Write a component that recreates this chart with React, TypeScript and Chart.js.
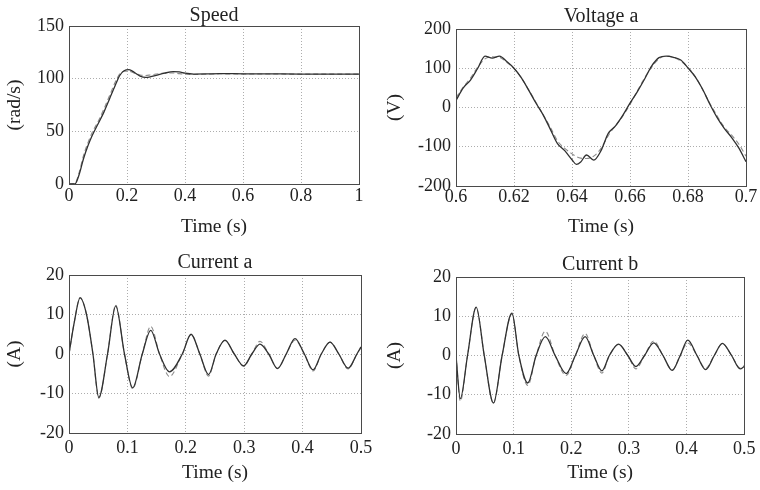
import React, { useEffect, useRef } from "react";
import { Chart, registerables } from "chart.js";

Chart.register(...registerables);

const FONT = "'Liberation Serif', 'DejaVu Serif', serif";
const TEXT = "#222222";

// ---------- Speed ----------
const speedTime = [0, 0.02, 0.035, 0.05, 0.065, 0.08, 0.1, 0.12, 0.14, 0.16, 0.175, 0.19, 0.207, 0.225, 0.245, 0.265, 0.28, 0.3, 0.33, 0.36, 0.38, 0.4, 0.43, 0.47, 0.52, 0.6, 0.7, 0.8, 0.9, 1.0];
const speedSolid = [0, 0, 9, 24, 36, 46, 57, 68, 81, 94, 103, 107.5, 108.5, 106, 102.5, 101.3, 101.8, 103.2, 105.3, 106.6, 106.4, 105.2, 104.4, 104.5, 104.8, 104.6, 104.5, 104.4, 104.4, 104.4];
const speedDashed = [0, 0.5, 11, 27, 39, 49, 59, 71, 84, 97, 104.5, 107, 107, 105.2, 103.5, 103, 103.5, 104.4, 105.4, 105.4, 104.8, 104.2, 104, 104.2, 104.6, 104.5, 104.4, 104.3, 104.3, 104.3];
const speedXTicks = [0, 0.2, 0.4, 0.6, 0.8, 1];
const speedYTicks = [0, 50, 100, 150];

// ---------- Voltage a ----------
const voltTime = [0.6, 0.6025, 0.605, 0.6075, 0.61, 0.6125, 0.615, 0.6175, 0.62, 0.6225, 0.625, 0.6275, 0.63, 0.6325, 0.635, 0.6375, 0.64, 0.6415, 0.643, 0.645, 0.6475, 0.65, 0.6525, 0.655, 0.6575, 0.66, 0.6625, 0.665, 0.6675, 0.67, 0.6725, 0.675, 0.6775, 0.68, 0.6825, 0.685, 0.6875, 0.69, 0.6925, 0.695, 0.6975, 0.7];
const voltSolid = [18, 50, 70, 100, 131, 126, 131, 117, 100, 76, 45, 12, -18, -55, -92, -110, -133, -145, -139, -121, -134, -110, -66, -47, -20, 11, 40, 72, 106, 127, 131, 128, 121, 101, 78, 47, 9, -25, -53, -76, -103, -138];
const voltDashed = [25, 52, 75, 103, 124, 129, 128, 115, 99, 76, 46, 14, -18, -50, -85, -104, -118, -125, -129, -130, -124, -104, -72, -46, -22, 8, 42, 75, 103, 124, 131, 128, 118, 102, 79, 46, 11, -21, -50, -70, -93, -124];
const voltXTicks = [0.6, 0.62, 0.64, 0.66, 0.68, 0.7];
const voltYTicks = [-200, -100, 0, 100, 200];

// ---------- Current a ----------
const curATime = [0, 0.009, 0.019, 0.03, 0.041, 0.051, 0.066, 0.08, 0.095, 0.109, 0.1255, 0.14, 0.155, 0.172, 0.194, 0.209, 0.224, 0.239, 0.252, 0.267, 0.283, 0.299, 0.313, 0.327, 0.342, 0.357, 0.372, 0.387, 0.403, 0.418, 0.432, 0.447, 0.462, 0.478, 0.493, 0.5];
const curASolid = [0, 8, 14.2, 10, 0, -11, 0, 12.2, 0, -8.6, 0, 6, 0, -4.5, 0, 5, 0, -5.2, 0, 3.5, 0, -3, 0, 2.5, 0, -3.7, 0, 3.9, 0, -4, 0, 3, 0, -3.6, 0, 1.8];
const curADashed = [0, 8, 14.3, 10, 0, -11.2, 0, 12.3, 0, -8.8, 0, 7, 0, -5.7, 0, 4.9, 0, -5.6, 0, 3.4, 0, -3.1, 0, 3.2, 0, -3.6, 0, 3.5, 0, -4.3, 0, 3, 0, -3.8, 0, 1.6];

// ---------- Current b ----------
const curBTime = [0, 0.0075, 0.02, 0.035, 0.049, 0.065, 0.08, 0.097, 0.109, 0.1245, 0.139, 0.155, 0.172, 0.191, 0.207, 0.224, 0.239, 0.253, 0.266, 0.282, 0.298, 0.312, 0.327, 0.343, 0.359, 0.375, 0.389, 0.402, 0.418, 0.433, 0.448, 0.462, 0.478, 0.493, 0.5];
const curBSolid = [0, -11, 0, 12.3, 0, -12.1, 0, 10.8, 0, -7, 0, 4.8, 0, -4.6, 0, 4.8, 0, -3.9, 0, 2.9, 0, -2.8, 0, 3.2, 0, -3.8, 0, 3.9, 0, -3.6, 0, 3.1, 0, -3.4, -2.8];
const curBDashed = [0, -11.6, 0, 12.2, 0, -12.2, 0, 10.6, 0, -7.6, 0, 6.2, 0, -5.1, 0, 5.6, 0, -4.5, 0, 2.8, 0, -3.4, 0, 3.7, 0, -3.7, 0, 3.2, 0, -3.3, 0, 3, 0, -3.2, -2.6];

const currentXTicks = [0, 0.1, 0.2, 0.3, 0.4, 0.5];
const currentYTicks = [-20, -10, 0, 10, 20];

const fmt = (v: number) => String(parseFloat(Number(v).toFixed(4)));

type PanelSpec = {
  title: string;
  yTitle: string;
  time: number[];
  solid: number[];
  dashed: number[];
  xTicks: number[];
  yTicks: number[];
  canvasLeft: number;
  canvasTop: number;
  area: { l: number; t: number; r: number; b: number };
  titleCenter: number;
  xTickPad: number;
  xTitlePad: number;
};

const W = 380;
const H = 245;

const framePlugin = {
  id: "frame",
  afterDatasetsDraw(chart: any) {
    const { ctx, chartArea: a } = chart;
    ctx.save();
    ctx.strokeStyle = "#4a4a4a";
    ctx.lineWidth = 1;
    ctx.setLineDash([]);
    ctx.strokeRect(
      Math.round(a.left) + 0.5,
      Math.round(a.top) + 0.5,
      Math.round(a.right - a.left),
      Math.round(a.bottom - a.top)
    );
    ctx.restore();
  },
};

function Panel({ spec }: { spec: PanelSpec }) {
  const ref = useRef<HTMLCanvasElement | null>(null);
  useEffect(() => {
    if (!ref.current) return;
    const s = spec;
    const titleSize = 20;
    const pt = s.titleCenter - titleSize / 2;
    const pb = Math.max(0, s.area.t - titleSize - pt);
    const toPts = (arr: number[]) => s.time.map((t, i) => ({ x: t, y: arr[i] }));
    const tickFont = { family: FONT, size: 18 };
    const axisTitleFont = { family: FONT, size: 19.5, lineHeight: 1.2 };
    const chart = new Chart(ref.current, {
      type: "line",
      data: {
        datasets: [
          {
            data: toPts(s.solid),
            borderColor: "#303030",
            borderWidth: 1.3,
            pointRadius: 0,
            cubicInterpolationMode: "monotone",
            fill: false,
          },
          {
            data: toPts(s.dashed),
            borderColor: "#8c8c8c",
            borderWidth: 1.1,
            borderDash: [5, 3],
            pointRadius: 0,
            cubicInterpolationMode: "monotone",
            fill: false,
          },
        ],
      },
      options: {
        animation: false,
        responsive: false,
        devicePixelRatio: 1,
        events: [],
        layout: { padding: { left: 0, top: 0, right: W - s.area.r, bottom: 0 } },
        plugins: {
          legend: { display: false },
          tooltip: { enabled: false },
          title: {
            display: true,
            fullSize: false,
            text: s.title,
            color: TEXT,
            font: { family: FONT, size: titleSize, weight: "normal", lineHeight: 1 },
            padding: { top: pt, bottom: pb },
          },
        },
        scales: {
          x: {
            type: "linear",
            min: s.xTicks[0],
            max: s.xTicks[s.xTicks.length - 1],
            afterBuildTicks: (sc: any) => {
              sc.ticks = s.xTicks.map((v) => ({ value: v }));
            },
            afterFit: (sc: any) => {
              sc.height = H - s.area.b;
            },
            ticks: {
              autoSkip: false,
              maxRotation: 0,
              padding: s.xTickPad,
              color: TEXT,
              font: tickFont,
              callback: (v: any) => fmt(v),
            },
            grid: { color: "#adadad", lineWidth: 1, drawTicks: false },
            border: { display: false, dash: [1, 2] },
            title: {
              display: true,
              text: "Time (s)",
              color: TEXT,
              font: axisTitleFont,
              padding: { top: 0, bottom: s.xTitlePad },
            },
          },
          y: {
            type: "linear",
            min: s.yTicks[0],
            max: s.yTicks[s.yTicks.length - 1],
            afterBuildTicks: (sc: any) => {
              sc.ticks = s.yTicks.map((v) => ({ value: v }));
            },
            afterFit: (sc: any) => {
              sc.width = s.area.l;
            },
            ticks: {
              autoSkip: false,
              padding: 5,
              color: TEXT,
              font: tickFont,
              callback: (v: any) => fmt(v),
            },
            grid: { color: "#adadad", lineWidth: 1, drawTicks: false },
            border: { display: false, dash: [1, 2] },
            title: {
              display: true,
              text: s.yTitle,
              color: TEXT,
              font: axisTitleFont,
              padding: { top: 3, bottom: 0 },
            },
          },
        },
      } as any,
      plugins: [framePlugin],
    });
    return () => chart.destroy();
  }, [spec]);
  return (
    <canvas
      ref={ref}
      width={W}
      height={H}
      style={{ position: "absolute", left: spec.canvasLeft, top: spec.canvasTop, width: W, height: H }}
    />
  );
}

const panels: PanelSpec[] = [
  {
    title: "Speed",
    yTitle: "(rad/s)",
    time: speedTime,
    solid: speedSolid,
    dashed: speedDashed,
    xTicks: speedXTicks,
    yTicks: speedYTicks,
    canvasLeft: 0,
    canvasTop: 0,
    area: { l: 69, t: 26, r: 359, b: 184 },
    titleCenter: 16,
    xTickPad: 1.5,
    xTitlePad: 6.3,
  },
  {
    title: "Voltage a",
    yTitle: "(V)",
    time: voltTime,
    solid: voltSolid,
    dashed: voltDashed,
    xTicks: voltXTicks,
    yTicks: voltYTicks,
    canvasLeft: 380,
    canvasTop: 0,
    area: { l: 76, t: 29, r: 366, b: 186 },
    titleCenter: 17,
    xTickPad: 0.5,
    xTitlePad: 6.3,
  },
  {
    title: "Current a",
    yTitle: "(A)",
    time: curATime,
    solid: curASolid,
    dashed: curADashed,
    xTicks: currentXTicks,
    yTicks: currentYTicks,
    canvasLeft: 0,
    canvasTop: 245,
    area: { l: 69, t: 30, r: 361, b: 188 },
    titleCenter: 18,
    xTickPad: 4.5,
    xTitlePad: 5.3,
  },
  {
    title: "Current b",
    yTitle: "(A)",
    time: curBTime,
    solid: curBSolid,
    dashed: curBDashed,
    xTicks: currentXTicks,
    yTicks: currentYTicks,
    canvasLeft: 380,
    canvasTop: 245,
    area: { l: 76, t: 32, r: 367, b: 189 },
    titleCenter: 20,
    xTickPad: 4.5,
    xTitlePad: 5.3,
  },
];

export default function App() {
  return (
    <div
      style={{
        position: "absolute",
        left: 0,
        top: 0,
        width: 760,
        height: 490,
        background: "#ffffff",
        overflow: "hidden",
      }}
    >
      {panels.map((p) => (
        <Panel key={p.title} spec={p} />
      ))}
    </div>
  );
}
